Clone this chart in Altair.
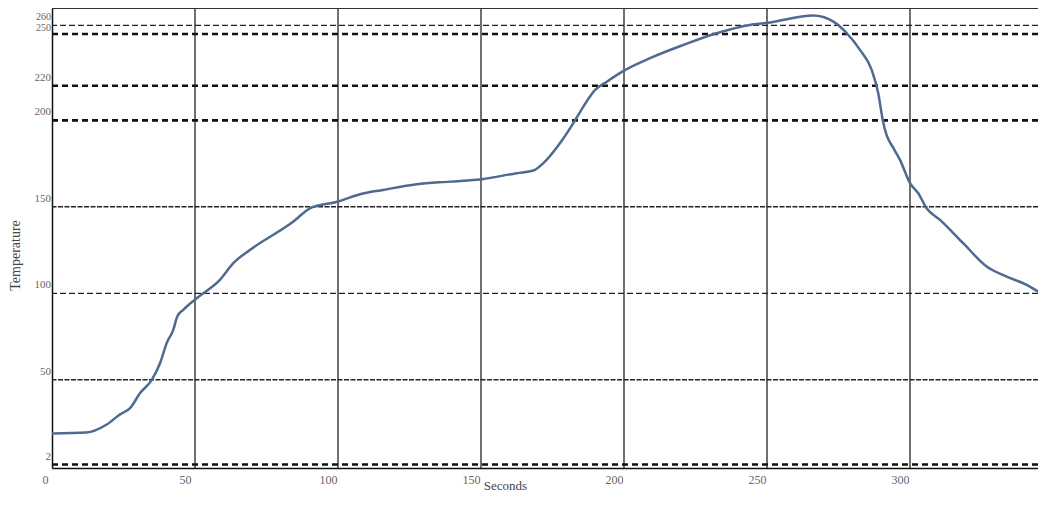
import altair as alt
import pandas as pd

# Curve
secs = [0, 12, 19, 23.8, 27.3, 30.8, 34.9, 37.8, 40.1, 42.4, 43.8, 45.9, 50.6, 58.7, 63.4,
        69.2, 84.4, 90.2, 100.1, 107.7, 115.8, 127.5, 139.2, 150.2, 162.5, 168.3, 171.8,
        177.6, 182.3, 185.8, 189.9, 194, 200, 209.1, 220.7, 232.4, 244, 250.5, 266.2,
        273.2, 277.9, 282.5, 286.6, 288.9, 290.5, 291.8, 294, 296.5, 300, 302.9, 305.8,
        310.5, 318.6, 326.8, 333.8, 340.8, 346, 347.6]
temp = [19, 19.5, 24, 30, 33.6, 42.3, 50, 59.7, 71.2, 78.9, 86.6, 90.5, 97.2, 107.8, 117.5,
        125.1, 141.5, 149.2, 153.1, 157.3, 159.8, 163.1, 164.6, 166, 169.5, 171, 175.3,
        186.8, 198.4, 208, 217.6, 222.4, 228.8, 236, 243.6, 250.4, 255.2, 256.5, 260.6,
        257.1, 250.4, 240.8, 229.2, 215.7, 200, 191.6, 184.5, 177.2, 163.7, 157.9, 149.2,
        142.5, 129, 115.5, 109.7, 104.9, 100.1, 99.1]

# Horizontal reference lines and their labels
h_values = [1, 50, 100, 150, 200, 220, 250, 255]
h_labels = ["2", "50", "100", "150", "200", "220", "250", "260"]
h_style = ["heavy", "wavy", "thin", "wavy", "heavy", "heavy", "heavy", "thin"]

# Vertical grid lines
v_values = [50, 100, 150, 200, 250, 300]
x_ticks = [0, 50, 100, 150, 200, 250, 300]

curve = pd.DataFrame({"Seconds": secs, "Temperature": temp})
hl = pd.DataFrame({"v": h_values, "label": h_labels, "style": h_style})
vl = pd.DataFrame({"v": v_values})

W, H = 986, 460
XD = [0, W / 2.86]
YD = [-1, 265]
xs = alt.Scale(domain=XD, nice=False, zero=False)
ys = alt.Scale(domain=YD, nice=False, zero=False)

serif = "Liberation Serif"

base_axes = alt.Chart(curve).mark_line(opacity=0).encode(
    x=alt.X("Seconds:Q", scale=xs,
            axis=alt.Axis(values=x_ticks, grid=False, ticks=False, domainColor="#111",
                          domainWidth=1.5, labelColor="#666", labelFont=serif,
                          labelFontSize=12, labelOffset=-10, labelPadding=6,
                          title="Seconds", titleFont=serif, titleFontSize=13,
                          titleFontWeight="normal", titleColor="#444",
                          titleX=453, titleY=17, titleBaseline="middle")),
    y=alt.Y("Temperature:Q", scale=ys,
            axis=alt.Axis(labels=False, grid=False, ticks=False, domainColor="#111",
                          domainWidth=1.5, title="Temperature", titleFont=serif,
                          titleFontSize=14, titleFontWeight="normal", titleColor="#444",
                          titleX=-37, titleY=247, titleBaseline="middle")),
)

vrules = alt.Chart(vl).mark_rule(color="#222", strokeWidth=1.3).encode(
    x=alt.X("v:Q", scale=xs))

def hrule(style, width, dash, color):
    return alt.Chart(hl).transform_filter(alt.datum.style == style).mark_rule(
        color=color, strokeWidth=width, strokeDash=dash).encode(
        y=alt.Y("v:Q", scale=ys))

heavy = hrule("heavy", 2.6, [6, 4], "#111")
thin = hrule("thin", 1.3, [6, 3], "#222")
wavy = hrule("wavy", 1.5, [5, 1.5], "#222")

top = alt.Chart(hl).mark_rule(color="#333", strokeWidth=1.5).encode(
    y=alt.value(0), x=alt.value(0), x2=alt.value(W))

def ylab(cond, dy, size):
    return alt.Chart(hl).transform_filter(cond).mark_text(
        align="right", baseline="middle", dy=dy, dx=-1,
        font=serif, fontSize=size, color="#666").encode(
        y=alt.Y("v:Q", scale=ys), x=alt.value(0), text="label:N")

ylabels_main = ylab((alt.datum.label != "260") & (alt.datum.label != "250"), -8, 11)
ylabels_250 = ylab(alt.datum.label == "250", -6, 10)
ylabels_260 = ylab(alt.datum.label == "260", -8, 10)

line = alt.Chart(curve).mark_line(color="#4e6a90", strokeWidth=2.5, clip=True,
                                  interpolate="monotone").encode(
    x=alt.X("Seconds:Q", scale=xs), y=alt.Y("Temperature:Q", scale=ys))

chart = alt.layer(base_axes, vrules, wavy, thin, heavy, top, line,
                  ylabels_main, ylabels_250, ylabels_260).properties(
    width=W, height=H,
    autosize=alt.AutoSizeParams(type="none"),
    padding={"left": 44, "top": 0, "right": 0, "bottom": 27},
).configure_view(stroke=None).configure(background="white")

chart.save("out.html", embed_options={"renderer": "svg", "actions": False})
